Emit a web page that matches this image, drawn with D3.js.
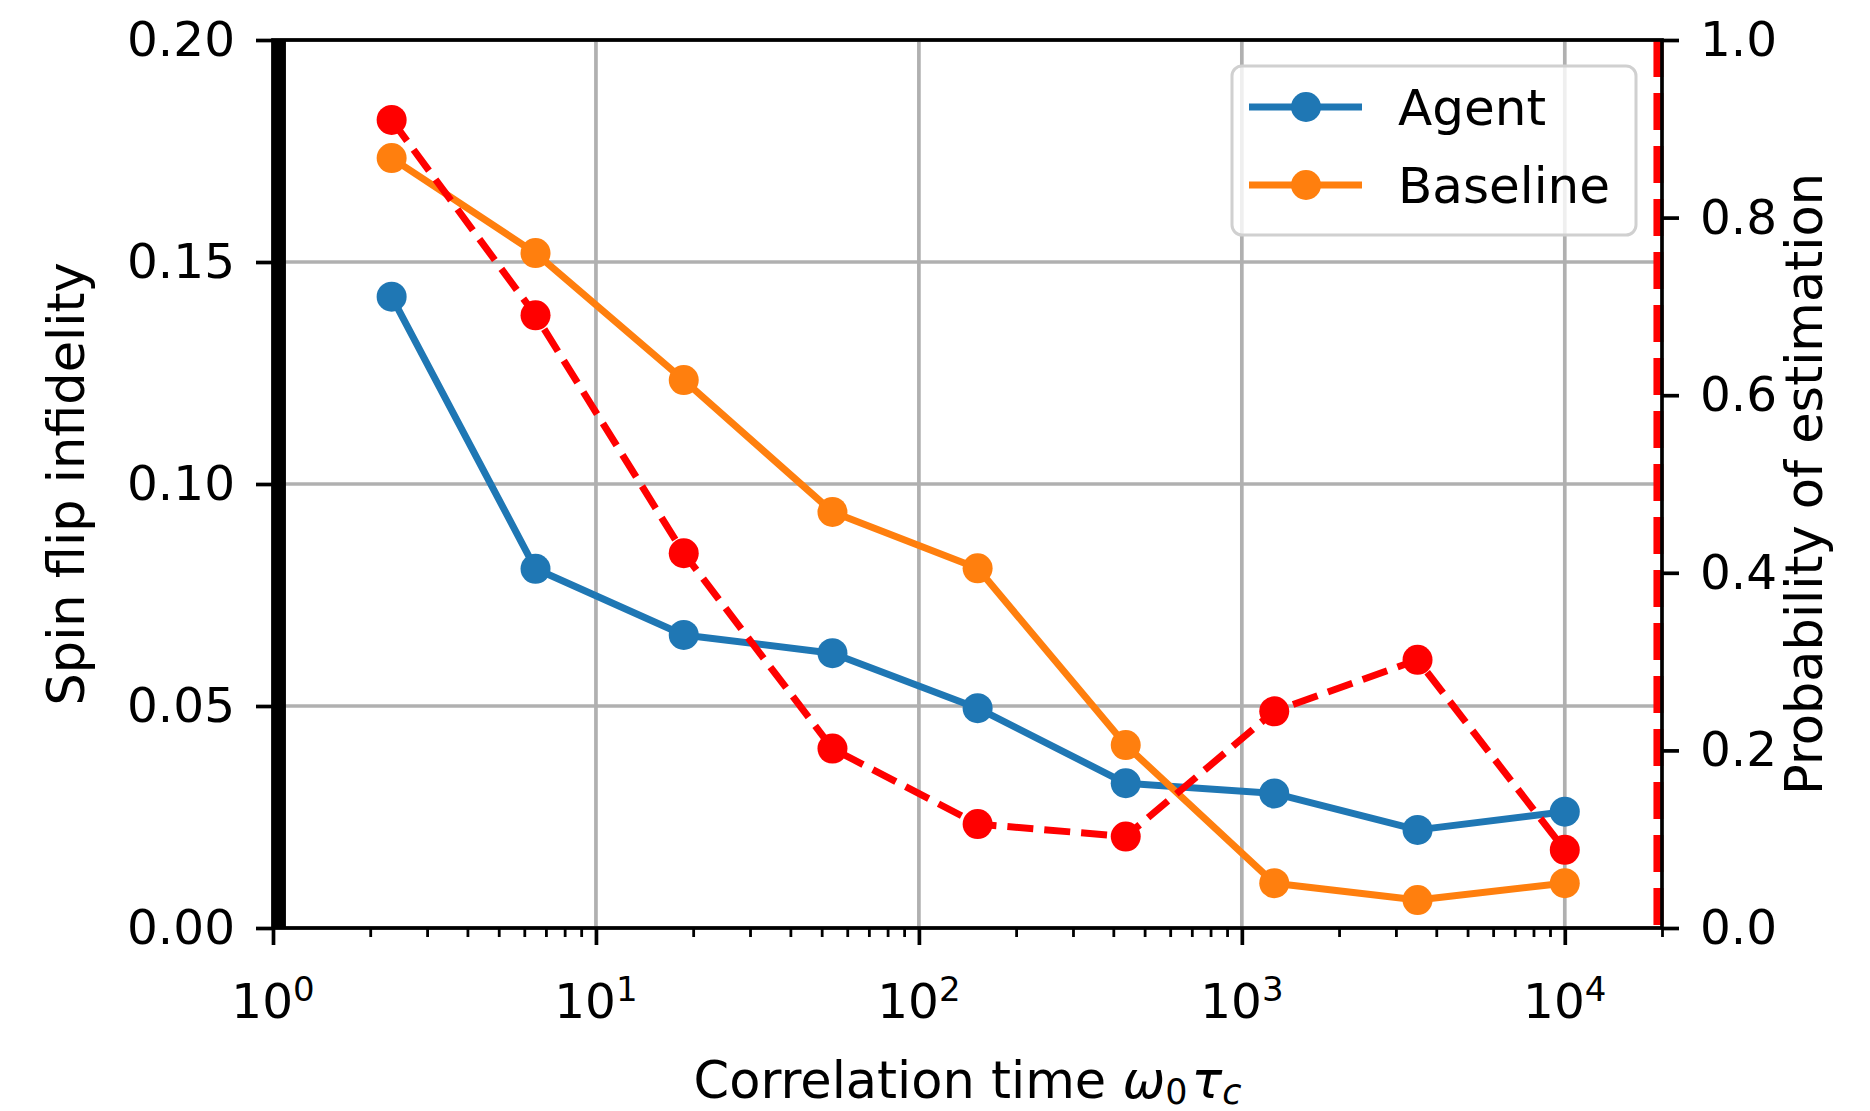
<!DOCTYPE html>
<html>
<head>
<meta charset="utf-8">
<script src="https://cdn.jsdelivr.net/npm/d3@7"></script>
<style>
  html, body { margin: 0; padding: 0; background: #ffffff; }
  svg { display: block; }
  text { font-family: "DejaVu Sans", sans-serif; fill: #000; }
</style>
</head>
<body>
<svg id="chart" width="1870" height="1111"></svg>
<script>
// Correlation time (ω0 τc) of each run
const correlationTimes = [2.33, 6.5, 18.7, 54, 152, 437, 1260, 3500, 10000];
// Spin flip infidelity, left axis
const agentInfidelity = [0.1422, 0.0809, 0.0660, 0.0619, 0.0495, 0.0326, 0.0303, 0.0221, 0.0262];
const baselineInfidelity = [0.1734, 0.1520, 0.1234, 0.0937, 0.0810, 0.0412, 0.0101, 0.0063, 0.0101];
// Probability of estimation, right axis
const estimationProbability = [0.910, 0.690, 0.422, 0.202, 0.117, 0.103, 0.244, 0.302, 0.088];

// Axis ticks
const xMajorTicks = [1, 10, 100, 1000, 10000];
const xMajorExponents = ["0", "1", "2", "3", "4"];
const yLeftTicks = [0, 0.05, 0.10, 0.15, 0.20];
const yRightTicks = [0, 0.2, 0.4, 0.6, 0.8, 1.0];

// Vertical reference lines at the ends of the correlation-time range
const lowerRangeLine = 1.047;
const upperRangeLine = 19500;

const seriesInfo = [
  { name: "Agent", values: agentInfidelity, color: "#1f77b4" },
  { name: "Baseline", values: baselineInfidelity, color: "#ff7f0e" }
];

(function drawChart() {
  const svg = d3.select("#chart");
  const plotLeft = 273, plotRight = 1662, plotTop = 40, plotBottom = 928;
  const tickFs = 48.5;   // tick labels
  const labelFs = 51;    // axis titles
  const legendFs = 50;   // legend entries

  const x = d3.scaleLog().domain([1, 20000]).range([plotLeft, plotRight]);
  const yL = d3.scaleLinear().domain([0, 0.2]).range([plotBottom, plotTop]);
  const yR = d3.scaleLinear().domain([0, 1]).range([plotBottom, plotTop]);

  // Grid
  const grid = svg.append("g").attr("stroke", "#b0b0b0").attr("stroke-width", 3.7);
  xMajorTicks.forEach(v => {
    grid.append("line").attr("x1", x(v)).attr("x2", x(v)).attr("y1", plotTop).attr("y2", plotBottom);
  });
  yLeftTicks.forEach(v => {
    grid.append("line").attr("x1", plotLeft).attr("x2", plotRight).attr("y1", yL(v)).attr("y2", yL(v));
  });

  // Lower limit line
  svg.append("line")
    .attr("x1", x(lowerRangeLine)).attr("x2", x(lowerRangeLine))
    .attr("y1", plotTop).attr("y2", plotBottom)
    .attr("stroke", "#000").attr("stroke-width", 13);

  // Infidelity series
  seriesInfo.forEach(s => {
    const line = d3.line().x((d, i) => x(correlationTimes[i])).y(d => yL(d));
    svg.append("path").datum(s.values)
      .attr("d", line).attr("fill", "none")
      .attr("stroke", s.color).attr("stroke-width", 7)
      .attr("stroke-linejoin", "round").attr("stroke-linecap", "square");
    svg.append("g").selectAll("circle").data(s.values).join("circle")
      .attr("cx", (d, i) => x(correlationTimes[i]))
      .attr("cy", d => yL(d))
      .attr("r", 15).attr("fill", s.color);
  });

  // Legend
  const lg = svg.append("g");
  lg.append("rect").attr("x", 1232).attr("y", 66).attr("width", 404).attr("height", 169)
    .attr("rx", 10).attr("fill", "#fff").attr("fill-opacity", 0.8)
    .attr("stroke", "#d0d0d0").attr("stroke-width", 3);
  seriesInfo.forEach((s, i) => {
    const ly = 107 + i * 78;
    lg.append("line").attr("x1", 1249).attr("x2", 1362).attr("y1", ly).attr("y2", ly)
      .attr("stroke", s.color).attr("stroke-width", 7);
    lg.append("circle").attr("cx", 1306).attr("cy", ly).attr("r", 15).attr("fill", s.color);
    lg.append("text").attr("x", 1398).attr("y", ly + 18).attr("font-size", legendFs).text(s.name);
  });

  // Probability of estimation
  const redLine = d3.line().x((d, i) => x(correlationTimes[i])).y(d => yR(d));
  svg.append("path").datum(estimationProbability)
    .attr("d", redLine).attr("fill", "none")
    .attr("stroke", "#ff0000").attr("stroke-width", 7)
    .attr("stroke-dasharray", "26 11");
  svg.append("g").selectAll("circle").data(estimationProbability).join("circle")
    .attr("cx", (d, i) => x(correlationTimes[i]))
    .attr("cy", d => yR(d))
    .attr("r", 15).attr("fill", "#ff0000");

  // Upper limit line
  svg.append("line")
    .attr("x1", x(upperRangeLine)).attr("x2", x(upperRangeLine))
    .attr("y1", plotTop).attr("y2", plotBottom)
    .attr("stroke", "#ff0000").attr("stroke-width", 10)
    .attr("stroke-dasharray", "37 16");

  // Axes
  function styleAxis(g, w) {
    g.select(".domain").remove();
    g.selectAll(".tick line").attr("stroke", "#000").attr("stroke-width", w);
    g.selectAll(".tick text").attr("font-size", tickFs).attr("fill", "#000")
      .style("font-family", "'DejaVu Sans', sans-serif");
  }

  const xMinorTicks = [];
  for (let p = 1; p <= 10000; p *= 10) {
    for (let k = 2; k <= 9; k++) if (p * k <= 20000) xMinorTicks.push(p * k);
  }

  svg.append("g").attr("transform", `translate(0,${plotBottom})`)
    .call(d3.axisBottom(x).tickValues(xMinorTicks).tickSize(9).tickFormat(""))
    .call(g => styleAxis(g, 2.8));

  svg.append("g").attr("transform", `translate(0,${plotBottom})`)
    .call(d3.axisBottom(x).tickValues(xMajorTicks).tickSize(17).tickFormat(""))
    .call(g => styleAxis(g, 3.7));
  xMajorTicks.forEach((v, i) => {
    const t = svg.append("text").attr("x", x(v)).attr("y", 1018)
      .attr("text-anchor", "middle").attr("font-size", tickFs);
    t.append("tspan").text("10");
    t.append("tspan").attr("dy", -17).attr("font-size", 34).text(xMajorExponents[i]);
  });

  svg.append("g").attr("transform", `translate(${plotLeft},0)`)
    .call(d3.axisLeft(yL).tickValues(yLeftTicks).tickSize(17).tickPadding(21).tickFormat(d3.format(".2f")))
    .call(g => styleAxis(g, 3.7));

  svg.append("g").attr("transform", `translate(${plotRight},0)`)
    .call(d3.axisRight(yR).tickValues(yRightTicks).tickSize(17).tickPadding(21).tickFormat(d3.format(".1f")))
    .call(g => styleAxis(g, 3.7));

  // Frame
  svg.append("rect").attr("x", plotLeft).attr("y", plotTop)
    .attr("width", plotRight - plotLeft).attr("height", plotBottom - plotTop)
    .attr("fill", "none").attr("stroke", "#000").attr("stroke-width", 3.7);

  // Axis labels
  const midY = (plotTop + plotBottom) / 2;
  svg.append("text").attr("transform", `translate(84,${midY}) rotate(-90)`)
    .attr("text-anchor", "middle").attr("font-size", labelFs).text("Spin flip infidelity");
  svg.append("text").attr("transform", `translate(1822,${midY}) rotate(-90)`)
    .attr("text-anchor", "middle").attr("font-size", labelFs).text("Probability of estimation");

  const xl = svg.append("text").attr("x", (plotLeft + plotRight) / 2).attr("y", 1098)
    .attr("text-anchor", "middle").attr("font-size", labelFs);
  xl.append("tspan").text("Correlation time ");
  xl.append("tspan").attr("font-style", "italic").text("ω");
  xl.append("tspan").attr("font-size", 35).attr("dy", 6).text("0");
  xl.append("tspan").attr("dy", -6).attr("dx", 4).attr("font-style", "italic").text("τ");
  xl.append("tspan").attr("font-size", 35).attr("dy", 6).attr("font-style", "italic").text("c");
})();
</script>
</body>
</html>
